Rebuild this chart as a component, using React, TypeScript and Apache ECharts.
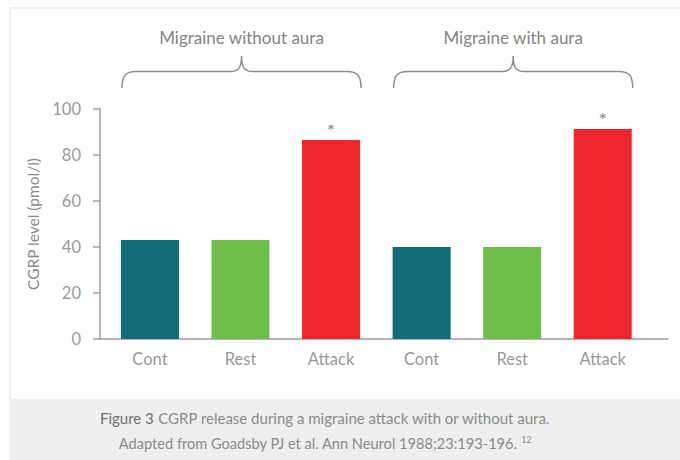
import React, { useEffect, useRef } from "react";
import * as echarts from "echarts";

const categories = ["Cont", "Rest", "Attack", "Cont", "Rest", "Attack"];
const values = [43, 43, 86.5, 40, 40, 91.3];
const barColors = ["#106c79", "#6fbe4a", "#ee262b", "#106c79", "#6fbe4a", "#ee262b"];
const significant = [false, false, true, false, false, true];
const groupNames = ["Migraine without aura", "Migraine with aura"];
const groupSpans = [
  [0, 2],
  [3, 5],
];
const yTicks = { min: 0, max: 100, interval: 20 };
const yName = "CGRP level (pmol/l)";
const captionBold = "Figure 3";
const captionRest = " CGRP release during a migraine attack with or without aura.";
const captionLine2 = "Adapted from Goadsby PJ et al. Ann Neurol 1988;23:193-196.";
const captionRef = "12";

const FONT = "Lato, 'Open Sans', sans-serif";

export default function App() {
  const ref = useRef<HTMLDivElement>(null);
  useEffect(() => {
    if (!ref.current) return;
    const chart = echarts.init(ref.current, null, { renderer: "svg" });
    const halfBar = 29;
    chart.setOption({
      animation: false,
      backgroundColor: "#ffffff",
      textStyle: { fontFamily: FONT },
      grid: [
        { left: 104.7, right: 32, top: 109, bottom: 121 },
        { left: 100, right: 12, top: 109, bottom: 121 },
      ],
      xAxis: [
        {
          type: "category",
          gridIndex: 0,
          data: categories,
          axisLine: { show: false },
          axisTick: { show: false },
          axisLabel: { color: "#9a9a9a", fontSize: 16.5, margin: 11, fontFamily: FONT },
        },
        {
          type: "value",
          gridIndex: 1,
          min: 0,
          max: 1,
          axisLine: { show: true, lineStyle: { color: "#9c9c9c", width: 1.5 } },
          axisTick: { show: false },
          axisLabel: { show: false },
          splitLine: { show: false },
        },
      ],
      yAxis: [
        {
          type: "value",
          gridIndex: 0,
          min: yTicks.min,
          max: yTicks.max,
          interval: yTicks.interval,
          show: false,
        },
        {
          type: "value",
          gridIndex: 1,
          min: yTicks.min,
          max: yTicks.max,
          interval: yTicks.interval,
          name: yName,
          nameLocation: "middle",
          nameRotate: 90,
          nameGap: 58,
          nameTextStyle: { color: "#8a8a8a", fontSize: 15.5, fontFamily: FONT },
          axisLine: { show: true, lineStyle: { color: "#9c9c9c", width: 1.5 } },
          axisTick: { show: true, length: 7, lineStyle: { color: "#9c9c9c", width: 1.5 } },
          axisLabel: { color: "#9a9a9a", fontSize: 16.5, margin: 19, fontFamily: FONT },
          splitLine: { show: false },
        },
      ],
      series: [
        {
          type: "bar",
          xAxisIndex: 0,
          yAxisIndex: 0,
          barWidth: 58,
          data: values.map((v, i) => ({
            value: v,
            itemStyle: { color: barColors[i] },
            label: {
              show: significant[i],
              position: "top",
              distance: 0,
              formatter: "*",
              color: "#8a8a8a",
              fontSize: 20,
              fontFamily: FONT,
            },
          })),
        },
        {
          type: "custom",
          xAxisIndex: 0,
          yAxisIndex: 0,
          clip: false,
          silent: true,
          encode: { x: [0, 1] },
          data: groupSpans.map((s) => [s[0], s[1]]),
          renderItem: (params: any, api: any) => {
            const s = api.value(0);
            const e = api.value(1);
            const x0 = api.coord([s, 0])[0] - halfBar + 1;
            const x1 = api.coord([e, 0])[0] + halfBar + 1;
            const mid = (x0 + x1) / 2;
            const top = params.coordSys.y;
            const yEnd = top - 21;
            const yH = top - 37.5;
            const yTip = top - 53;
            const r = 14;
            const d =
              `M ${x0} ${yEnd} C ${x0} ${yH + 4} ${x0 + 4} ${yH} ${x0 + r} ${yH} ` +
              `L ${mid - 11} ${yH} C ${mid - 3} ${yH} ${mid} ${yH - 4} ${mid} ${yTip} ` +
              `C ${mid} ${yH - 4} ${mid + 3} ${yH} ${mid + 11} ${yH} ` +
              `L ${x1 - r} ${yH} C ${x1 - 4} ${yH} ${x1} ${yH + 4} ${x1} ${yEnd}`;
            return {
              type: "group",
              children: [
                {
                  type: "path",
                  shape: { pathData: d },
                  style: { stroke: "#8c8c8c", fill: "none", lineWidth: 1.5 },
                },
                {
                  type: "text",
                  style: {
                    text: groupNames[params.dataIndex],
                    x: mid,
                    y: top - 72,
                    align: "center",
                    verticalAlign: "middle",
                    fill: "#858585",
                    fontSize: 17,
                    fontFamily: FONT,
                  },
                },
              ],
            };
          },
        },
      ],
      graphic: [
        {
          type: "rect",
          silent: true,
          shape: { x: 10, y: 399, width: 670, height: 61 },
          style: { fill: "#efefef" },
          z: -10,
        },
        {
          type: "line",
          silent: true,
          shape: { x1: 10, y1: 8, x2: 10, y2: 399 },
          style: { stroke: "#ebebeb", lineWidth: 1.5 },
        },
        {
          type: "line",
          silent: true,
          shape: { x1: 10, y1: 8, x2: 680, y2: 8 },
          style: { stroke: "#ebebeb", lineWidth: 1.5 },
        },
        {
          type: "text",
          silent: true,
          x: 325,
          y: 418,
          style: {
            text: `{b|${captionBold}}{n|${captionRest}}`,
            align: "center",
            verticalAlign: "middle",
            rich: {
              b: { fill: "#6e6e6e", fontSize: 15, fontFamily: FONT },
              n: { fill: "#8a8a8a", fontSize: 15, fontFamily: FONT },
            },
          },
        },
        {
          type: "text",
          silent: true,
          x: 325,
          y: 443,
          style: {
            text: `{n|${captionLine2} }{s|${captionRef}}`,
            align: "center",
            verticalAlign: "middle",
            rich: {
              n: { fill: "#8a8a8a", fontSize: 14.6, fontFamily: FONT },
              s: { fill: "#8a8a8a", fontSize: 9, fontFamily: FONT, verticalAlign: "top", padding: [0, 0, 8, 0] },
            },
          },
        },
      ],
    });
    return () => chart.dispose();
  }, []);
  return (
    <div
      ref={ref}
      style={{ position: "fixed", left: 0, top: 0, width: 680, height: 460 }}
    />
  );
}
